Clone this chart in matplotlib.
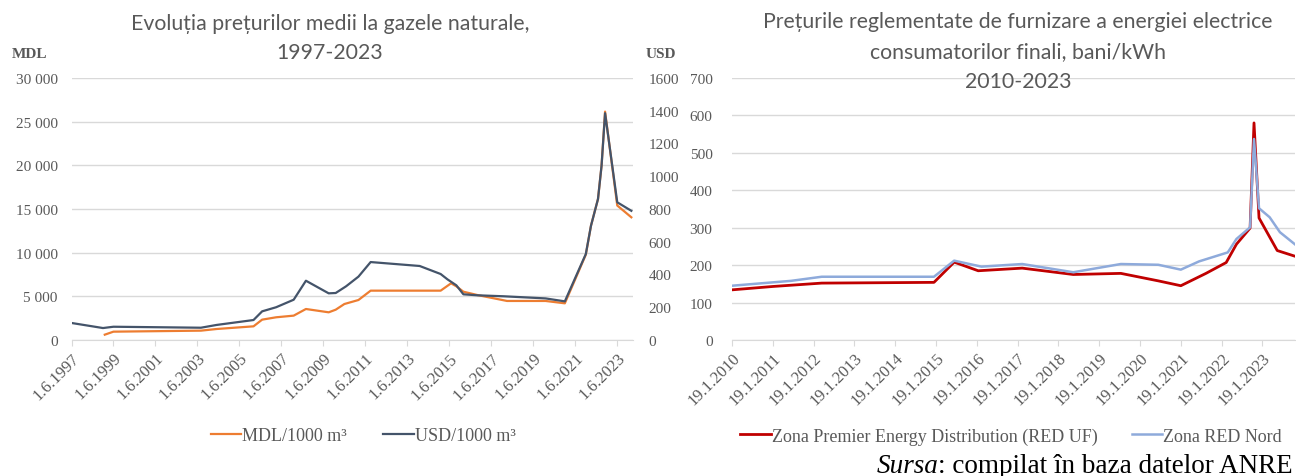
import matplotlib
matplotlib.use('Agg')
import matplotlib.pyplot as plt
import matplotlib.dates as mdates
from matplotlib.ticker import FuncFormatter, MultipleLocator
import pandas as pd

# --- gas prices, 1997-2023 ---
mdl_dates = ["1999-01-01", "1999-06-01", "2003-08-01", "2004-05-01", "2006-02-01",
             "2006-07-01", "2007-03-01", "2008-01-01", "2008-08-01", "2009-09-01",
             "2010-01-01", "2010-06-01", "2011-02-01", "2011-09-01", "2015-01-01",
             "2015-07-01", "2015-10-01", "2016-02-01", "2016-10-01", "2018-03-01",
             "2020-01-01", "2020-12-01", "2021-12-01", "2022-03-01", "2022-07-01",
             "2022-09-01", "2022-11-01", "2023-06-01", "2024-02-01"]
mdl_values = [611, 954, 1070, 1260, 1565, 2330, 2600, 2790, 3550, 3170,
              3470, 4120, 4580, 5650, 5650, 6490, 6150, 5530, 5150, 4470,
              4470, 4200, 9770, 13090, 16150, 19960, 26150, 15400, 14050]

usd_dates = ["1997-06-01", "1998-12-01", "1999-06-01", "2003-08-01", "2004-05-01",
             "2006-02-01", "2006-07-01", "2007-03-01", "2008-01-01", "2008-08-01",
             "2009-09-01", "2010-01-01", "2010-07-01", "2011-02-01", "2011-09-01",
             "2014-01-01", "2015-01-01", "2015-05-01", "2015-10-01", "2016-02-01",
             "2016-10-01", "2018-01-01", "2020-01-01", "2020-12-01", "2021-12-01",
             "2022-03-01", "2022-07-01", "2022-09-01", "2022-11-01", "2023-06-01",
             "2024-02-01"]
usd_values = [104, 73, 81, 75, 92, 122, 175, 200, 246, 362,
              285, 287, 328, 387, 476, 452, 403, 370, 334, 279,
              273, 267, 254, 236, 525, 698, 861, 1065, 1385, 841,
              789]

gas_ticks = ["1.6.1997", "1.6.1999", "1.6.2001", "1.6.2003", "1.6.2005", "1.6.2007",
             "1.6.2009", "1.6.2011", "1.6.2013", "1.6.2015", "1.6.2017", "1.6.2019",
             "1.6.2021", "1.6.2023"]

# --- electricity prices, 2010-2023 ---
uf_dates = ["2010-01-19", "2011-01-19", "2012-04-01", "2015-01-01", "2015-07-01",
            "2016-02-01", "2017-03-01", "2018-06-01", "2019-08-01", "2020-07-01",
            "2021-01-19", "2021-09-01", "2022-03-01", "2022-06-01", "2022-10-01",
            "2022-11-05", "2022-12-20", "2023-06-01", "2023-11-05"]
uf_values = [134, 143, 152, 154, 208, 185, 192, 175, 178, 158,
             145, 178, 207, 256, 299, 580, 326, 239, 224]

nord_dates = ["2010-01-19", "2011-01-19", "2011-07-01", "2012-04-01", "2015-01-01",
              "2015-07-01", "2016-03-01", "2017-03-01", "2018-06-01", "2019-08-01",
              "2020-07-01", "2021-01-19", "2021-07-01", "2022-03-15", "2022-06-01",
              "2022-10-01", "2022-11-05", "2022-12-20", "2023-03-25", "2023-06-25",
              "2023-11-05"]
nord_values = [145, 154, 158, 169, 169, 212, 196, 203, 181, 203,
               201, 188, 210, 234, 270, 301, 537, 352, 328, 288,
               256]

el_ticks = ["19.1.2010", "19.1.2011", "19.1.2012", "19.1.2013", "19.1.2014",
            "19.1.2015", "19.1.2016", "19.1.2017", "19.1.2018", "19.1.2019",
            "19.1.2020", "19.1.2021", "19.1.2022", "19.1.2023"]

SERIF = 'Liberation Serif'
TITLE_FONT = 'Lato'
GREY = '#595959'
GRID = '#D9D9D9'


def style_axis(ax, tick_labels):
    for s in ['top', 'left', 'right']:
        ax.spines[s].set_visible(False)
    ax.spines['bottom'].set_color(GRID)
    ax.grid(axis='y', color=GRID, linewidth=1)
    ax.set_axisbelow(True)
    pos = pd.to_datetime(tick_labels, format='%d.%m.%Y')
    ax.set_xticks(mdates.date2num(pos))
    ax.set_xticklabels(tick_labels, rotation=45, ha='right', rotation_mode='anchor',
                       family=SERIF, fontsize=12, color=GREY)
    ax.tick_params(axis='x', length=4, color=GRID, pad=3)
    ax.tick_params(axis='y', length=0, labelsize=11, labelcolor=GREY, pad=10)
    for lab in ax.get_yticklabels():
        lab.set_family(SERIF)


fig = plt.figure(figsize=(12.96, 4.77), dpi=100)
W, H = 1296, 477

# left chart
ax1 = fig.add_axes((71.5 / W, 1 - 341 / H, (633 - 71.5) / W, 262 / H))
ax1.plot(pd.to_datetime(mdl_dates), mdl_values, color='#ED7D31', lw=1.6,
         label='MDL/1000 m³', zorder=3)
ax1.set_ylim(0, 30000)
ax1.yaxis.set_major_locator(MultipleLocator(5000))
ax1.yaxis.set_major_formatter(FuncFormatter(lambda v, p: f"{int(v):,}".replace(',', ' ')))
ax1.set_xlim(pd.Timestamp("1997-06-01"), pd.Timestamp("2024-03-01"))
style_axis(ax1, gas_ticks)

ax2 = ax1.twinx()
ax2.plot(pd.to_datetime(usd_dates), usd_values, color='#44546A', lw=1.6,
         label='USD/1000 m³', zorder=4)
ax2.set_ylim(0, 1600)
ax2.yaxis.set_major_locator(MultipleLocator(200))
for s in ax2.spines.values():
    s.set_visible(False)
ax2.tick_params(axis='y', length=0, labelsize=11, labelcolor=GREY, pad=11)
for lab in ax2.get_yticklabels():
    lab.set_family(SERIF)
ax2.set_xlim(ax1.get_xlim())

fig.text(12 / W, 1 - 54 / H, 'MDL', family=SERIF, fontweight='bold', fontsize=11,
         color=GREY, va='center', ha='left')
fig.text(646 / W, 1 - 54 / H, 'USD', family=SERIF, fontweight='bold', fontsize=11,
         color=GREY, va='center', ha='left')
fig.text(330 / W, 1 - 38.5 / H, 'Evoluția prețurilor medii la gazele naturale,\n1997-2023',
         family=TITLE_FONT, fontsize=15.3, color=GREY, ha='center', va='center',
         linespacing=1.6)

h1, l1 = ax1.get_legend_handles_labels()
h2, l2 = ax2.get_legend_handles_labels()
fig.legend(h1 + h2, l1 + l2, loc='center', bbox_to_anchor=(363 / W, 1 - 437 / H),
           ncol=2, frameon=False, handlelength=1.7, handletextpad=0.05,
           columnspacing=2.0, prop={'family': SERIF, 'size': 13}, labelcolor=GREY)

# right chart
ax3 = fig.add_axes((732 / W, 1 - 341 / H, (1295 - 732) / W, 262 / H))
ax3.plot(pd.to_datetime(uf_dates), uf_values, color='#C00000', lw=2.0,
         label='Zona Premier Energy Distribution (RED UF)', zorder=3)
ax3.plot(pd.to_datetime(nord_dates), nord_values, color='#8EAADB', lw=1.8,
         label='Zona RED Nord', zorder=4)
ax3.set_ylim(0, 700)
ax3.yaxis.set_major_locator(MultipleLocator(100))
ax3.set_xlim(pd.Timestamp("2010-01-19"), pd.Timestamp("2023-11-07"))
style_axis(ax3, el_ticks)
ax3.tick_params(axis='y', pad=14)

fig.text(1018 / W, 1 - 52 / H,
         'Prețurile reglementate de furnizare a energiei electrice\n'
         'consumatorilor finali, bani/kWh\n2010-2023',
         family=TITLE_FONT, fontsize=15.3, color=GREY, ha='center', va='center',
         linespacing=1.6)

fig.legend(*ax3.get_legend_handles_labels(), loc='center',
           bbox_to_anchor=(1011 / W, 1 - 437 / H), ncol=2, frameon=False,
           handlelength=1.7, handletextpad=0.05, columnspacing=1.9,
           prop={'family': SERIF, 'size': 13}, labelcolor=GREY)

# source note
note = fig.text(1293 / W, 1 - 473 / H, ': compilat în baza datelor ANRE',
                family=SERIF, fontsize=19.5, color='black', ha='right', va='baseline')
ax3.annotate('Sursa', xy=(0, 0), xycoords=note, ha='right', va='bottom',
             family=SERIF, fontsize=19.5, fontstyle='italic', color='black',
             annotation_clip=False)

fig.savefig('out.png', dpi=100, facecolor='white')
plt.close(fig)
